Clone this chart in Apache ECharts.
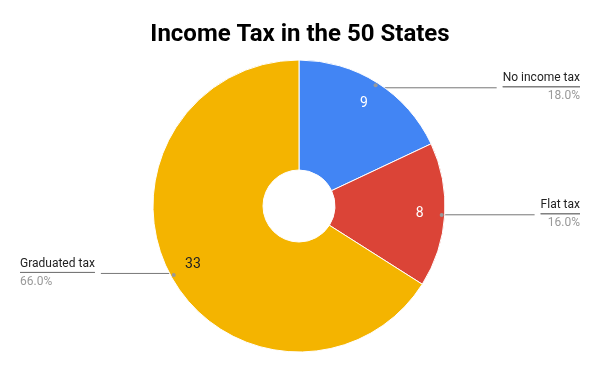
<!DOCTYPE html>
<html><head><meta charset="utf-8">
<script src="https://cdn.jsdelivr.net/npm/echarts@6/dist/echarts.min.js"></script>
<style>html,body{margin:0;padding:0;background:#fff}#c{width:600px;height:371px}</style>
</head><body><div id="c"></div>
<script>
const categories = ['No income tax', 'Flat tax', 'Graduated tax'];
const values = [9, 8, 33];
const colors = ['#4285F4', '#DB4437', '#F4B400'];
const insideTextColors = ['#ffffff', '#ffffff', '#222222'];
const titleText = 'Income Tax in the 50 States';

const data = categories.map((n, i) => ({ name: n, value: values[i] }));
const center = [299, 206];
const font = 'Roboto, "Noto Sans", sans-serif';

const chart = echarts.init(document.getElementById('c'), null, { renderer: 'canvas' });
chart.setOption({
  animation: false,
  backgroundColor: '#fff',
  title: {
    text: titleText, left: 'center', top: 18,
    textStyle: { fontFamily: font, fontSize: 24, fontWeight: 'bold', color: '#000' }
  },
  series: [
    {
      type: 'pie', center: center, radius: [36, 146], startAngle: 90, clockwise: true,
      data: data.map((d, i) => ({ ...d, itemStyle: { color: colors[i] } })),
      itemStyle: { borderColor: '#fff', borderWidth: 1 },
      label: { show: false }, labelLine: { show: false }, silent: true
    },
    {
      type: 'pie', center: center, radius: [90, 146], startAngle: 90, clockwise: true, silent: true,
      data: data.map((d, i) => ({ ...d, label: { color: insideTextColors[i] } })),
      itemStyle: { color: 'rgba(0,0,0,0)' },
      label: { show: true, position: 'inside', formatter: '{c}', fontFamily: font, fontSize: 14 },
      labelLine: { show: false }
    },
    {
      type: 'pie', center: center, radius: [138, 142], startAngle: 90, clockwise: true, silent: true,
      data: data,
      itemStyle: { color: 'rgba(0,0,0,0)' },
      label: { show: true, position: 'inside', formatter: ' ', width: 4, height: 4, padding: 0,
        backgroundColor: '#999', borderRadius: 2, fontSize: 1, lineHeight: 4 },
      labelLine: { show: false }
    },
    {
      type: 'pie', center: center, radius: [0, 140], startAngle: 90, clockwise: true, silent: true,
      data: data,
      itemStyle: { color: 'rgba(0,0,0,0)' },
      label: {
        show: true, position: 'outside', alignTo: 'edge', edgeDistance: 20,
        formatter: p => '{n|' + p.name + '}\n{hr|}\n{p|' + p.percent.toFixed(1) + '%}',
        rich: {
          n: { fontFamily: font, fontSize: 12, color: '#222', lineHeight: 17 },
          hr: { borderColor: '#777', width: '100%', borderWidth: 1, height: 0 },
          p: { fontFamily: font, fontSize: 12, color: '#999', lineHeight: 19 }
        }
      },
      labelLine: { show: true, length: 0, length2: 10, lineStyle: { color: '#777', width: 1 } }
    }
  ]
});
</script></body></html>
